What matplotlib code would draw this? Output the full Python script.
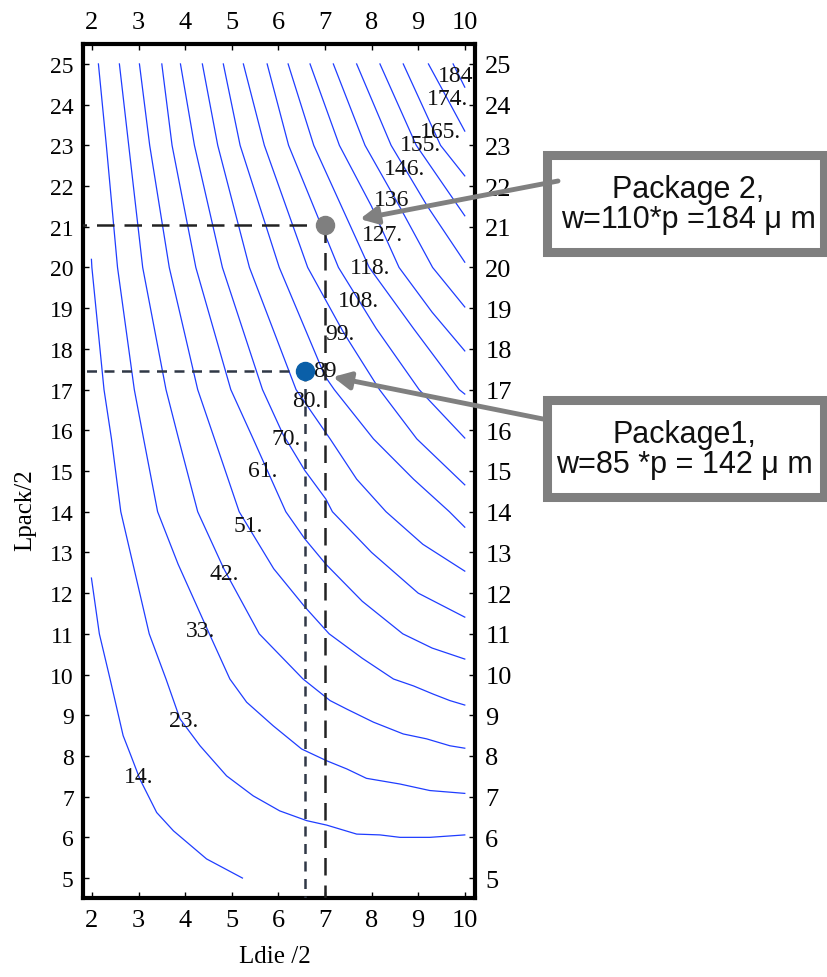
import matplotlib
matplotlib.use("Agg")
import matplotlib.pyplot as plt
from matplotlib.patches import Rectangle

plt.rcParams["font.family"] = ["Liberation Serif", "DejaVu Serif"]

# Contour lines: x = Ldie/2, y = Lpack/2
c14_x = [1.99, 2.16, 2.39, 2.67, 2.84, 3.03, 3.39, 3.75, 4.46, 5.23]
c14_y = [12.37, 11.0, 9.89, 8.5, 8.0, 7.43, 6.61, 6.16, 5.47, 5.0]

c23_x = [1.99, 2.0, 2.26, 2.42, 2.62, 3.23, 3.59, 3.89, 4.32, 4.89, 5.46, 6.03, 6.61, 7.04, 7.68, 8.18, 8.61, 9.25, 10.0]
c23_y = [20.2, 20.0, 17.0, 15.79, 14.0, 11.0, 9.89, 8.91, 8.25, 7.51, 7.02, 6.65, 6.41, 6.30, 6.08, 6.06, 6.0, 6.0, 6.06]

c33_x = [2.14, 2.31, 2.55, 2.91, 3.11, 3.41, 3.85, 4.52, 4.96, 5.32, 5.89, 6.50, 7.04, 7.47, 7.89, 8.61, 9.25, 10.0]
c33_y = [25.0, 23.0, 20.0, 17.0, 15.79, 14.0, 12.71, 11.0, 9.89, 9.32, 8.74, 8.17, 7.88, 7.68, 7.45, 7.31, 7.15, 7.08]

c42_x = [2.59, 2.79, 3.09, 3.59, 3.86, 4.27, 4.83, 5.59, 6.53, 7.11, 7.47, 8.04, 8.68, 9.18, 9.68, 10.0]
c42_y = [25.0, 23.0, 20.0, 17.0, 15.79, 14.0, 12.6, 11.0, 9.89, 9.36, 9.15, 8.83, 8.54, 8.42, 8.25, 8.19]

c51_x = [3.02, 3.24, 3.66, 4.27, 4.63, 5.16, 5.9, 6.57, 7.09, 7.8, 8.47, 8.90, 9.32, 9.68, 10.0]
c51_y = [25.0, 23.0, 20.0, 17.0, 15.79, 14.0, 12.6, 11.66, 11.0, 10.4, 9.89, 9.72, 9.52, 9.36, 9.25]

c61_x = [3.50, 3.72, 4.23, 4.98, 5.46, 6.16, 6.57, 7.02, 7.8, 8.67, 9.3, 10.0]
c61_y = [25.0, 23.0, 20.0, 17.0, 15.79, 14.0, 13.33, 12.71, 11.8, 11.0, 10.65, 10.38]

c70_x = [3.90, 4.20, 4.80, 5.66, 6.1, 6.57, 7.02, 7.16, 8.0, 9.0, 10.0]
c70_y = [25.0, 23.0, 20.0, 17.0, 15.9, 15.01, 14.31, 14.0, 13.0, 12.0, 11.41]

c80_x = [4.37, 4.70, 5.38, 6.38, 7.11, 7.68, 8.31, 9.1, 10.0]
c80_y = [25.0, 23.0, 20.0, 17.0, 15.79, 14.8, 14.0, 13.2, 12.54]

c89_x = [4.82, 5.18, 6.02, 7.0, 7.2, 8.04, 8.9, 9.67, 10.0]
c89_y = [25.0, 23.0, 20.0, 17.33, 17.0, 15.79, 14.8, 14.0, 13.62]

c99_x = [5.25, 5.70, 6.63, 7.4, 8.17, 8.97, 10.0]
c99_y = [25.0, 23.0, 20.0, 18.4, 17.0, 15.79, 14.66]

c108_x = [5.76, 6.22, 7.29, 8.1, 9.02, 10.0]
c108_y = [25.0, 23.0, 20.0, 18.5, 17.0, 15.81]

c118_x = [6.21, 6.76, 7.95, 8.9, 9.88, 10.0]
c118_y = [25.0, 23.0, 20.0, 18.5, 17.0, 16.89]

c127_x = [6.68, 7.31, 8.0, 8.59, 9.3, 10.0]
c127_y = [25.0, 23.0, 21.5, 20.0, 18.9, 17.95]

c136_x = [7.18, 7.86, 8.6, 9.31, 10.0]
c136_y = [25.0, 23.0, 21.5, 20.0, 19.03]

c146_x = [7.68, 8.42, 9.2, 10.0]
c146_y = [25.0, 23.0, 21.5, 20.13]

c155_x = [8.18, 8.96, 9.5, 10.0]
c155_y = [25.0, 23.0, 22.1, 21.27]

c165_x = [8.68, 9.48, 10.0]
c165_y = [25.0, 23.0, 22.25]

c174_x = [9.22, 9.6, 10.0]
c174_y = [25.0, 24.2, 23.35]

c184_x = [9.75, 10.0]
c184_y = [25.0, 24.43]

curves = [(c14_x, c14_y), (c23_x, c23_y), (c33_x, c33_y), (c42_x, c42_y),
          (c51_x, c51_y), (c61_x, c61_y), (c70_x, c70_y), (c80_x, c80_y),
          (c89_x, c89_y), (c99_x, c99_y), (c108_x, c108_y), (c118_x, c118_y),
          (c127_x, c127_y), (c136_x, c136_y), (c146_x, c146_y), (c155_x, c155_y),
          (c165_x, c165_y), (c174_x, c174_y), (c184_x, c184_y)]

# Contour labels and where they sit
level_labels = ["14.", "23.", "33.", "42.", "51.", "61.", "70.", "80.", "89", "99.",
                "108.", "118.", "127.", "136", "146.", "155.", "165.", "174.", "184"]
label_x = [3.01, 3.97, 4.34, 4.83, 5.35, 5.67, 6.16, 6.61, 7.00, 7.32,
           7.71, 7.97, 8.24, 8.44, 8.70, 9.04, 9.47, 9.62, 9.81]
label_y = [7.50, 8.88, 11.09, 12.47, 13.65, 15.0, 15.81, 16.72, 17.48, 18.37,
           19.18, 19.99, 20.80, 21.68, 22.44, 23.01, 23.35, 24.16, 24.71]

# The two packages
pkg2 = (7.0, 21.05)
pkg1 = (6.57, 17.46)
pkg2_text = "Package 2,\nw=110*p =184 μ m"
pkg1_text = "Package1,\nw=85 *p = 142 μ m"

W, H = 828, 978
fig = plt.figure(figsize=(W / 100, H / 100), dpi=100)
ax = fig.add_axes([83.5 / W, 1 - 899 / H, 392 / W, 854 / H])

for cx, cy in curves:
    ax.plot(cx, cy, color="#1f3dff", lw=0.9, zorder=2)

for txt, lx, ly in zip(level_labels, label_x, label_y):
    ax.text(lx, ly, txt, fontsize=17, ha="center", va="center", color="#111111", zorder=4)

# guide lines
ax.plot([1.5, pkg2[0]], [pkg2[1], pkg2[1]], color="#222222", lw=1.8, dashes=(7, 4), zorder=3)
ax.plot([pkg2[0], pkg2[0]], [pkg2[1], 4.0], color="#222222", lw=1.8, dashes=(7, 4), zorder=3)
ax.plot([1.5, pkg1[0]], [pkg1[1], pkg1[1]], color="#303846", lw=1.8, dashes=(4, 3), zorder=3)
ax.plot([pkg1[0], pkg1[0]], [pkg1[1], 4.0], color="#303846", lw=1.8, dashes=(4, 3), zorder=3)

ax.plot(*pkg2, "o", color="#7f7f7f", ms=13, zorder=5)
ax.plot(*pkg1, "o", color="#0a5fa8", ms=13, zorder=5)

ax.set_xlim(1.82, 10.23)
ax.set_ylim(4.51, 25.49)
ax.set_xticks(range(2, 11))
ax.set_yticks(range(5, 26))
ax.tick_params(direction="in", top=True, right=True, labeltop=True, labelright=True,
               length=4, width=1, labelsize=19)
ax.tick_params(axis="x", pad=8)
ax.tick_params(axis="y", pad=7)
for t in ax.yaxis.get_major_ticks():
    t.label1.set_fontsize(17)
for s in ax.spines.values():
    s.set_linewidth(3)

ax.set_xlabel("Ldie /2", fontsize=18)
ax.xaxis.set_label_coords(0.489, -0.055)
ax.set_ylabel("Lpack/2", fontsize=18)
ax.yaxis.set_label_coords(-0.121, 0.455)

# callout boxes
fx = lambda px: px / W
fy = lambda py: 1 - py / H
for top in (156, 401):
    fig.add_artist(Rectangle((fx(547), fy(top + 97)), fx(277), 97 / H, facecolor="white",
                             edgecolor="#7f7f7f", lw=6.5, transform=fig.transFigure, zorder=-1))

fig.text(fx(688), fy(205), pkg2_text, ha="center", va="center", fontsize=22,
         family="Liberation Sans", linespacing=1.0, color="#111111")
fig.text(fx(684), fy(450), pkg1_text, ha="center", va="center", fontsize=22,
         family="Liberation Sans", linespacing=1.0, color="#111111")

arrow = dict(arrowstyle="-|>", color="#808080", lw=3.5, mutation_scale=26, shrinkA=0, shrinkB=0)
ax.annotate("", xy=(7.75, 21.19), xytext=(fx(558), fy(182)), textcoords="figure fraction",
            arrowprops=arrow, annotation_clip=False)
ax.annotate("", xy=(7.17, 17.31), xytext=(fx(543), fy(420)), textcoords="figure fraction",
            arrowprops=arrow, annotation_clip=False)

plt.savefig("out.png", dpi=100)
